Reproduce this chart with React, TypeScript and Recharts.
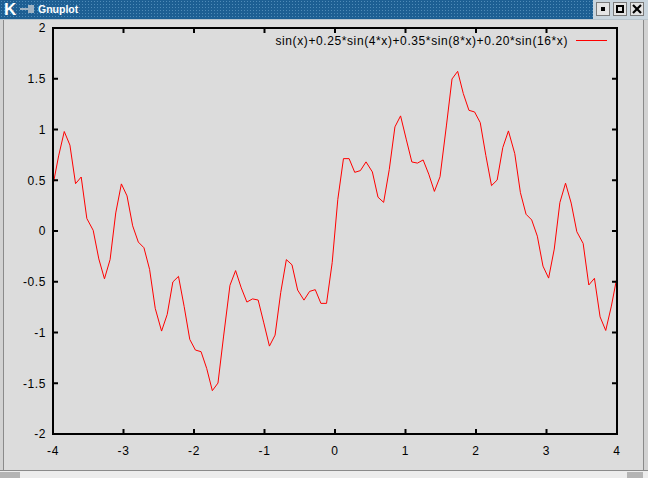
import { LineChart, Line, XAxis, YAxis, Legend } from 'recharts';

// sample positions (100 samples, -4..4)
const xValues = [
  -4.0, -3.92, -3.84, -3.76, -3.68, -3.6, -3.52, -3.43, -3.35, -3.27,
  -3.19, -3.11, -3.03, -2.95, -2.87, -2.79, -2.71, -2.63, -2.55, -2.46,
  -2.38, -2.3, -2.22, -2.14, -2.06, -1.98, -1.9, -1.82, -1.74, -1.66,
  -1.58, -1.49, -1.41, -1.33, -1.25, -1.17, -1.09, -1.01, -0.93, -0.85,
  -0.77, -0.69, -0.61, -0.53, -0.44, -0.36, -0.28, -0.2, -0.12, -0.04,
  0.04, 0.12, 0.2, 0.28, 0.36, 0.44, 0.53, 0.61, 0.69, 0.77,
  0.85, 0.93, 1.01, 1.09, 1.17, 1.25, 1.33, 1.41, 1.49, 1.58,
  1.66, 1.74, 1.82, 1.9, 1.98, 2.06, 2.14, 2.22, 2.3, 2.38,
  2.46, 2.55, 2.63, 2.71, 2.79, 2.87, 2.95, 3.03, 3.11, 3.19,
  3.27, 3.35, 3.43, 3.52, 3.6, 3.68, 3.76, 3.84, 3.92, 4.0,
];

const yValues = [
  0.452, 0.74, 0.98, 0.846, 0.466, 0.532, 0.123, 0.007, -0.275, -0.471,
  -0.281, 0.178, 0.464, 0.346, 0.051, -0.109, -0.165, -0.378, -0.762, -0.986,
  -0.822, -0.502, -0.447, -0.743, -1.068, -1.173, -1.189, -1.354, -1.573, -1.498,
  -1.035, -0.535, -0.39, -0.56, -0.7, -0.669, -0.68, -0.905, -1.134, -1.026,
  -0.607, -0.282, -0.333, -0.582, -0.681, -0.595, -0.578, -0.713, -0.713, -0.312,
  0.312, 0.713, 0.713, 0.578, 0.595, 0.681, 0.582, 0.333, 0.282, 0.607,
  1.026, 1.134, 0.905, 0.68, 0.669, 0.7, 0.56, 0.39, 0.535, 1.035,
  1.498, 1.573, 1.354, 1.189, 1.173, 1.068, 0.743, 0.447, 0.502, 0.822,
  0.986, 0.762, 0.378, 0.165, 0.109, -0.051, -0.346, -0.464, -0.178, 0.281,
  0.471, 0.275, -0.007, -0.123, -0.532, -0.466, -0.846, -0.98, -0.74, -0.452,
];

const xTicks = [-4, -3, -2, -1, 0, 1, 2, 3, 4];
const yTicks = [-2, -1.5, -1, -0.5, 0, 0.5, 1, 1.5, 2];
const seriesName = 'sin(x)+0.25*sin(4*x)+0.35*sin(8*x)+0.20*sin(16*x)';
const windowTitle = 'Gnuplot';

const font = '"Liberation Sans", Arial, Helvetica, sans-serif';
const frame = { stroke: '#000', strokeWidth: 2, strokeLinecap: 'square' as const };
const TICK = 5;

// gnuplot style: ticks point into the plot; labels only on bottom/left
function makeTick(side: 'left' | 'right' | 'top' | 'bottom') {
  return (props: any) => {
    const { x, y, payload } = props;
    let line;
    if (side === 'left') line = { x1: x, y1: y, x2: x + TICK, y2: y };
    else if (side === 'right') line = { x1: x, y1: y, x2: x - TICK, y2: y };
    else if (side === 'top') line = { x1: x, y1: y, x2: x, y2: y + TICK };
    else line = { x1: x, y1: y, x2: x, y2: y - TICK };
    return (
      <g>
        <line {...line} stroke="#000" strokeWidth={2} />
        {side === 'left' && (
          <text x={x - 7} y={y} dy="0.36em" textAnchor="end" fontFamily={font} fontSize={12} letterSpacing={0.6} fill="#000">
            {payload.value}
          </text>
        )}
        {side === 'bottom' && (
          <text x={x} y={y + 21} textAnchor="middle" fontFamily={font} fontSize={12} letterSpacing={0.6} fill="#000">
            {payload.value}
          </text>
        )}
      </g>
    );
  };
}

function KeyEntry() {
  return (
    <div
      style={{
        display: 'flex',
        alignItems: 'center',
        height: 16,
        fontFamily: font,
        fontSize: 12,
        letterSpacing: 0.6,
        color: '#000',
        whiteSpace: 'nowrap',
      }}
    >
      <span>{seriesName}</span>
      <svg width={31} height={2} style={{ marginLeft: 8, display: 'block' }} shapeRendering="crispEdges">
        <rect x={0} y={0} width={31} height={1} fill="#ff0000" />
      </svg>
    </div>
  );
}

function TitleButton({ kind, left }: { kind: string; left: number }) {
  return (
    <div
      style={{
        position: 'absolute',
        left,
        top: 2,
        width: 14,
        height: 14,
        background: '#e4e4e4',
        border: '1px solid #7a7a7a',
        boxSizing: 'border-box',
      }}
    >
      {kind === 'min' && (
        <div style={{ position: 'absolute', left: 4, top: 4, width: 4, height: 4, background: '#000' }} />
      )}
      {kind === 'max' && (
        <div
          style={{
            position: 'absolute',
            left: 2,
            top: 2,
            width: 8,
            height: 8,
            border: '2px solid #000',
            boxSizing: 'border-box',
          }}
        />
      )}
      {kind === 'close' && (
        <svg width={12} height={12} style={{ position: 'absolute', left: 0, top: 0 }}>
          <line x1={2} y1={2} x2={10} y2={10} stroke="#000" strokeWidth={2.2} />
          <line x1={10} y1={2} x2={2} y2={10} stroke="#000" strokeWidth={2.2} />
        </svg>
      )}
    </div>
  );
}

export default function App() {
  const data = xValues.map((x, i) => ({ x, y: yValues[i] }));

  return (
    <div
      style={{
        position: 'absolute',
        left: 0,
        top: 0,
        width: 648,
        height: 478,
        background: '#dcdcdc',
        overflow: 'hidden',
      }}
    >
      {/* window chrome */}
      <div
        style={{
          position: 'absolute',
          left: 0,
          top: 0,
          width: 648,
          height: 19,
          backgroundColor: '#1d5f93',
          backgroundImage: 'radial-gradient(circle, rgba(120,175,215,0.55) 0.7px, transparent 0.9px)',
          backgroundSize: '3px 3px',
          borderBottom: '1px solid #b8c4cc',
        }}
      />
      <div
        style={{
          position: 'absolute',
          left: 4,
          top: 0,
          fontFamily: font,
          fontWeight: 'bold',
          fontSize: 17,
          color: '#fff',
          lineHeight: '19px',
        }}
      >
        K
      </div>
      <div style={{ position: 'absolute', left: 20, top: 8, width: 8, height: 2, background: '#9fb3c3' }} />
      <div style={{ position: 'absolute', left: 28, top: 5, width: 6, height: 8, background: '#9fb3c3' }} />
      <div
        style={{
          position: 'absolute',
          left: 38,
          top: 0,
          fontFamily: font,
          fontWeight: 'bold',
          fontSize: 10.5,
          color: '#fff',
          lineHeight: '19px',
        }}
      >
        {windowTitle}
      </div>
      <div style={{ position: 'absolute', left: 593, top: 0, width: 55, height: 19, background: '#c9d5de' }} />
      <TitleButton kind="min" left={596} />
      <TitleButton kind="max" left={613} />
      <TitleButton kind="close" left={630} />

      <div style={{ position: 'absolute', left: 0, top: 20, width: 3, height: 450, background: '#d2d2d2' }} />
      <div style={{ position: 'absolute', left: 3, top: 20, width: 1, height: 450, background: '#8a8a8a' }} />
      <div style={{ position: 'absolute', left: 643, top: 20, width: 1, height: 450, background: '#8a8a8a' }} />
      <div style={{ position: 'absolute', left: 644, top: 20, width: 4, height: 458, background: '#d2d2d2' }} />
      <div style={{ position: 'absolute', left: 0, top: 470, width: 648, height: 1, background: '#8a8a8a' }} />
      <div style={{ position: 'absolute', left: 0, top: 471, width: 648, height: 7, background: '#ececec' }} />
      <div style={{ position: 'absolute', left: 0, top: 472, width: 20, height: 6, background: '#b4b4b4' }} />
      <div style={{ position: 'absolute', left: 627, top: 472, width: 16, height: 6, background: '#b4b4b4' }} />

      <div style={{ position: 'absolute', left: 0, top: 0 }}>
        <LineChart
          width={648}
          height={478}
          data={data}
          margin={{ top: 27, right: 30, bottom: 0, left: 8 }}
        >
          <XAxis
            xAxisId="bottom"
            dataKey="x"
            type="number"
            domain={[-4, 4]}
            ticks={xTicks}
            interval={0}
            allowDataOverflow
            height={44}
            tickSize={0}
            tickMargin={0}
            tick={makeTick('bottom')}
            tickLine={false}
            axisLine={frame}
          />
          <XAxis
            xAxisId="top"
            orientation="top"
            dataKey="x"
            type="number"
            domain={[-4, 4]}
            ticks={xTicks}
            interval={0}
            allowDataOverflow
            height={1}
            tickSize={0}
            tickMargin={0}
            tick={makeTick('top')}
            tickLine={false}
            axisLine={frame}
          />
          <YAxis
            yAxisId="left"
            type="number"
            domain={[-2, 2]}
            ticks={yTicks}
            interval={0}
            allowDataOverflow
            width={45}
            tickSize={0}
            tickMargin={0}
            tick={makeTick('left')}
            tickLine={false}
            axisLine={frame}
          />
          <YAxis
            yAxisId="right"
            orientation="right"
            type="number"
            domain={[-2, 2]}
            ticks={yTicks}
            interval={0}
            allowDataOverflow
            width={1}
            tickSize={0}
            tickMargin={0}
            tick={makeTick('right')}
            tickLine={false}
            axisLine={frame}
          />
          <Legend
            layout="horizontal"
            verticalAlign="middle"
            align="center"
            content={() => <KeyEntry />}
            wrapperStyle={{ top: 33, left: 'auto', right: 41, width: 'auto' }}
          />
          <Line
            xAxisId="bottom"
            yAxisId="left"
            type="linear"
            dataKey="y"
            name={seriesName}
            stroke="#ff0000"
            strokeWidth={1}
            dot={false}
            activeDot={false}
            isAnimationActive={false}
          />
          {/* invisible copy bound to the mirror axes so they get drawn */}
          <Line
            xAxisId="top"
            yAxisId="right"
            type="linear"
            dataKey="y"
            stroke="none"
            dot={false}
            activeDot={false}
            legendType="none"
            isAnimationActive={false}
          />
        </LineChart>
      </div>
    </div>
  );
}
